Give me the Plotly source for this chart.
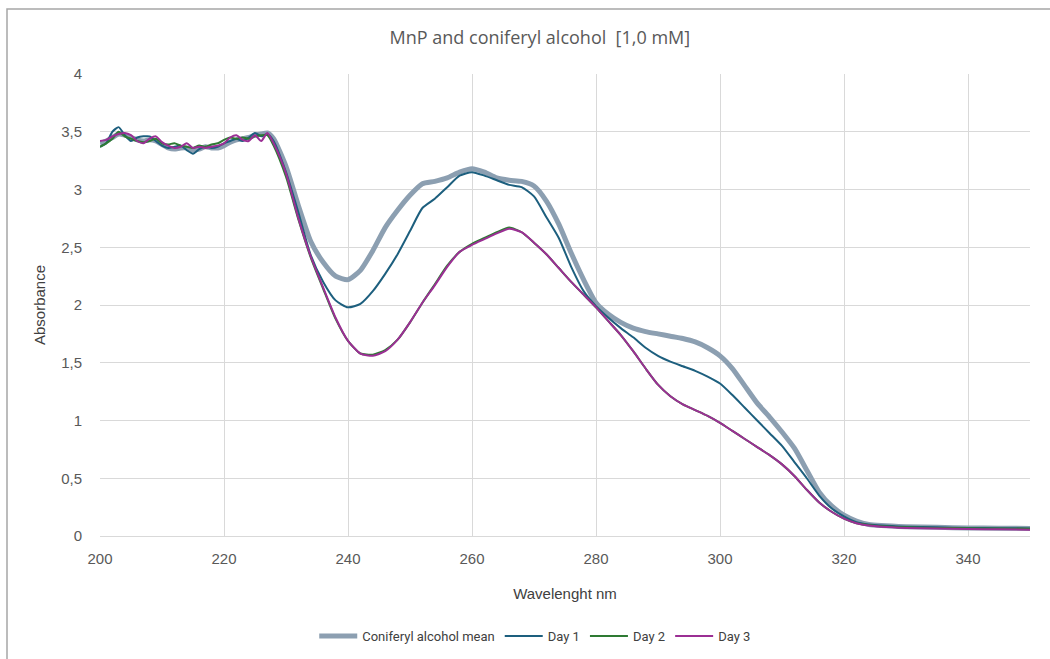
import plotly.graph_objects as go

wavelength = list(range(200, 229)) + list(range(230, 320, 2)) + [320, 322, 324, 326, 330, 335, 340, 345, 350]

mean_abs = [3.40, 3.42, 3.45, 3.48, 3.47, 3.45, 3.43, 3.42, 3.43, 3.42, 3.39, 3.36, 3.35, 3.36, 3.36,
            3.34, 3.35, 3.37, 3.36, 3.36, 3.38, 3.41, 3.43, 3.44, 3.45, 3.47, 3.48, 3.49, 3.44,
            3.20, 2.86, 2.55, 2.37, 2.25, 2.22, 2.30, 2.47, 2.67, 2.82, 2.95, 3.05, 3.07, 3.10, 3.15,
            3.18, 3.15, 3.10, 3.08, 3.07, 3.03, 2.90, 2.70, 2.45, 2.22, 2.02, 1.92, 1.85, 1.80, 1.77,
            1.75, 1.73, 1.71, 1.68, 1.63, 1.56, 1.45, 1.30, 1.15, 1.03, 0.90, 0.76, 0.57, 0.38, 0.26,
            0.18, 0.13, 0.10, 0.09, 0.08, 0.075, 0.07, 0.068, 0.065]

day1 = [3.37, 3.40, 3.50, 3.54, 3.47, 3.42, 3.45, 3.46, 3.46, 3.42, 3.38, 3.36, 3.37, 3.38, 3.34,
        3.31, 3.35, 3.37, 3.36, 3.37, 3.40, 3.42, 3.44, 3.42, 3.45, 3.49, 3.46, 3.48, 3.42,
        3.15, 2.80, 2.43, 2.20, 2.04, 1.98, 2.01, 2.12, 2.27, 2.44, 2.64, 2.84, 2.92, 3.02, 3.12,
        3.15, 3.12, 3.08, 3.04, 3.02, 2.94, 2.76, 2.58, 2.33, 2.12, 1.99, 1.89, 1.80, 1.72, 1.63,
        1.56, 1.51, 1.47, 1.43, 1.38, 1.32, 1.22, 1.11, 1.00, 0.89, 0.78, 0.64, 0.50, 0.35, 0.24,
        0.17, 0.12, 0.10, 0.09, 0.08, 0.075, 0.07, 0.068, 0.065]

day2 = [3.37, 3.40, 3.44, 3.50, 3.46, 3.44, 3.42, 3.41, 3.42, 3.44, 3.40, 3.39, 3.40, 3.38, 3.37,
        3.36, 3.38, 3.37, 3.39, 3.40, 3.43, 3.45, 3.44, 3.45, 3.44, 3.46, 3.47, 3.47, 3.38,
        3.11, 2.74, 2.41, 2.14, 1.88, 1.69, 1.58, 1.57, 1.61, 1.70, 1.85, 2.02, 2.18, 2.34, 2.46,
        2.53, 2.58, 2.63, 2.67, 2.63, 2.54, 2.44, 2.32, 2.20, 2.09, 1.98, 1.86, 1.74, 1.60, 1.45,
        1.31, 1.21, 1.14, 1.09, 1.04, 0.98, 0.91, 0.84, 0.77, 0.70, 0.62, 0.52, 0.40, 0.29, 0.21,
        0.15, 0.11, 0.095, 0.085, 0.075, 0.07, 0.067, 0.065, 0.063]

day3 = [3.42, 3.43, 3.46, 3.48, 3.49, 3.47, 3.42, 3.40, 3.44, 3.46, 3.41, 3.38, 3.36, 3.37, 3.40,
        3.36, 3.37, 3.36, 3.37, 3.38, 3.40, 3.45, 3.47, 3.43, 3.42, 3.47, 3.42, 3.49, 3.40,
        3.14, 2.75, 2.42, 2.15, 1.89, 1.69, 1.58, 1.56, 1.60, 1.70, 1.85, 2.02, 2.17, 2.33, 2.46,
        2.52, 2.57, 2.62, 2.66, 2.63, 2.54, 2.44, 2.32, 2.20, 2.09, 1.98, 1.86, 1.74, 1.60, 1.45,
        1.31, 1.21, 1.14, 1.09, 1.04, 0.98, 0.91, 0.84, 0.77, 0.70, 0.62, 0.52, 0.40, 0.29, 0.21,
        0.15, 0.11, 0.09, 0.08, 0.07, 0.065, 0.06, 0.058, 0.055]

series = [
    ("Coniferyl alcohol mean", mean_abs, "#8c9fb1", 5),
    ("Day 1", day1, "#1d5f7e", 2),
    ("Day 2", day2, "#2e7a33", 2),
    ("Day 3", day3, "#9b2f94", 2),
]

fig = go.Figure()
for name, vals, color, width in series:
    fig.add_trace(go.Scatter(
        x=wavelength, y=vals, mode="lines", name=name,
        line=dict(color=color, width=width, shape="spline", smoothing=0.6),
    ))

tick_font = dict(family="Liberation Sans, Arial, sans-serif", size=15, color="#595959")
axis_title_font = dict(family="Liberation Sans, Arial, sans-serif", size=15, color="#404040")

fig.update_layout(
    width=1050, height=659,
    margin=dict(l=100, r=20, t=74, b=123, autoexpand=False),
    paper_bgcolor="white", plot_bgcolor="white",
    separators=",.",
    title=dict(text="MnP and coniferyl alcohol  [1,0 mM]", x=0.473, xref="paper",
               y=1 - 38 / 659, yref="container", xanchor="center", yanchor="middle",
               font=dict(family="Open Sans, sans-serif", size=18, color="#595959")),
    xaxis=dict(range=[200, 350], tick0=200, dtick=20, showgrid=True, gridcolor="#d9d9d9",
               gridwidth=1, zeroline=False, showline=True, linecolor="#d9d9d9", linewidth=1,
               ticks="", tickfont=tick_font, ticklabelstandoff=9, automargin=False,
               title=dict(text="Wavelenght nm", standoff=22, font=axis_title_font)),
    yaxis=dict(range=[0, 4], dtick=0.5, showgrid=True, gridcolor="#d9d9d9", gridwidth=1,
               zeroline=False, showline=False, ticks="", tickfont=tick_font,
               ticklabelstandoff=17, automargin=False,
               title=dict(text="Absorbance", standoff=11, font=axis_title_font)),
    legend=dict(orientation="h", x=0.468, xanchor="center", y=-(636 - 536) / 462, yanchor="middle",
                font=dict(family="Roboto, sans-serif", size=13, color="#404040"),
                traceorder="normal", itemwidth=38),
    showlegend=True,
    shapes=[dict(type="rect", xref="paper", yref="paper",
                 x0=-0.1, x1=1.04, y0=-0.35, y1=1 + 65 / 462,
                 line=dict(color="#a6a6a6", width=1.5), fillcolor="rgba(0,0,0,0)", layer="below")],
)

fig.write_html("out.html")
